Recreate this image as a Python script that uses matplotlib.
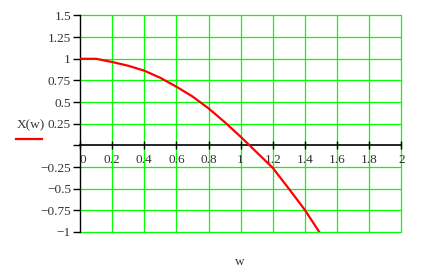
import matplotlib
matplotlib.use("Agg")
import matplotlib.pyplot as plt

plt.rcParams['font.family'] = ['Liberation Serif', 'DejaVu Serif']

w = [0.0, 0.1, 0.2, 0.3, 0.4, 0.5, 0.6, 0.7, 0.8, 0.9, 1.0, 1.1, 1.2, 1.3, 1.4, 1.5]
X = [1.0, 1.0, 0.963, 0.92, 0.863, 0.78, 0.678, 0.565, 0.428, 0.27, 0.10, -0.08, -0.26, -0.50, -0.746, -1.03]

xticks = [0, 0.2, 0.4, 0.6, 0.8, 1, 1.2, 1.4, 1.6, 1.8, 2]
xlabels = ['0', '0.2', '0.4', '0.6', '0.8', '1', '1.2', '1.4', '1.6', '1.8', '2']
yticks = [-1, -0.75, -0.5, -0.25, 0, 0.25, 0.5, 0.75, 1, 1.25, 1.5]
ylabels = ['\u22121', '\u22120.75', '\u22120.5', '\u22120.25', '', '0.25', '0.5', '0.75', '1', '1.25', '1.5']

fs = 9.5
fig = plt.figure(figsize=(4.21, 2.68), dpi=100)
ax = fig.add_axes([80/421, 1-232/268, (401.3-80)/421, (232-15.5)/268])
ax.set_xlim(0, 2)
ax.set_ylim(-1, 1.5)

green = '#00ff00'
for xv in xticks[1:]:
    ax.axvline(xv, color=green, lw=0.9, zorder=1, clip_on=False)
for yv in yticks:
    if yv != 0:
        ax.axhline(yv, color=green, lw=0.9, zorder=1, clip_on=False)

ax.plot(w, X, color='#ff0000', lw=1.6, zorder=3)

for s in ['top', 'right']:
    ax.spines[s].set_visible(False)
ax.spines['left'].set_color('black')
ax.spines['left'].set_linewidth(1.0)
ax.spines['bottom'].set_position(('data', 0))
ax.spines['bottom'].set_color('black')
ax.spines['bottom'].set_linewidth(1.2)
ax.spines['bottom'].set_zorder(2)

ax.set_xticks(xticks)
ax.set_xticklabels(xlabels)
ax.set_yticks(yticks)
ax.set_yticklabels(ylabels)
ax.tick_params(axis='x', direction='inout', length=6, width=1, pad=3, labelsize=fs, colors='black')
ax.tick_params(axis='y', direction='out', length=5, width=1, pad=1.5, labelsize=fs, colors='black')
for lab in ax.get_xticklabels():
    lab.set_color('#333333')
for lab in ax.get_yticklabels():
    lab.set_color('#333333')
xl = ax.get_xticklabels()
xl[0].set_horizontalalignment('left')

fig.text(31/421, 1-125.5/268, 'X(w)', ha='center', va='center', fontsize=fs, color='#333333')
fig.add_artist(plt.Line2D([15.7/421, 42.3/421], [1-139.3/268, 1-139.3/268], color='#ff0000', lw=1.6))
fig.text(239.5/421, 1-262/268, 'w', ha='center', va='center', fontsize=fs, color='#333333')

fig.savefig('out.png', dpi=100)
